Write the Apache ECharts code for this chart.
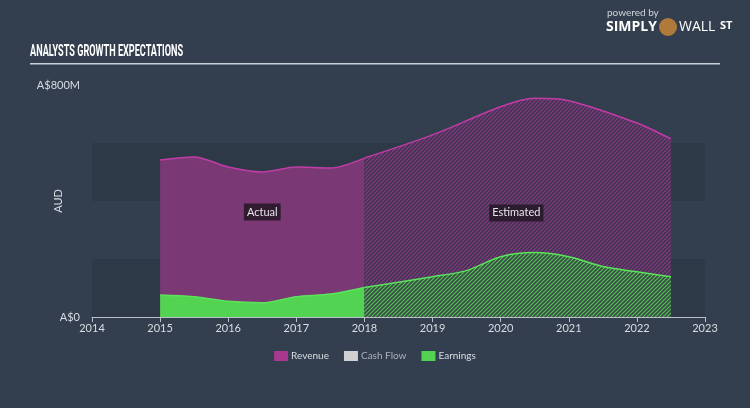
<!DOCTYPE html>
<html><head><meta charset="utf-8">
<script src="https://cdn.jsdelivr.net/npm/echarts@6/dist/echarts.min.js"></script>
<style>html,body{margin:0;padding:0;background:#333f4e;}#c{width:750px;height:408px;}</style>
</head><body><div id="c"></div>
<script>
// ---- data ----
const xTicks = [2014, 2015, 2016, 2017, 2018, 2019, 2020, 2021, 2022, 2023];
const revenueActualX = [2015, 2015.5, 2016, 2016.5, 2017, 2017.5, 2018];
const revenueActual = [541, 552, 517, 500, 517, 514, 548];
const revenueEstX = [2018, 2019, 2020, 2020.5, 2021, 2022, 2022.5];
const revenueEst = [548, 628, 725, 754, 746, 669, 614];
const earningsActualX = [2015, 2015.5, 2016, 2016.5, 2017, 2017.5, 2018];
const earningsActual = [76, 70, 54, 49, 70, 79, 102];
const earningsEstX = [2018, 2019, 2019.5, 2020, 2020.5, 2021, 2021.5, 2022, 2022.5];
const earningsEst = [102, 139, 160, 208, 222, 208, 174, 156, 139];
const cashFlow = [];
const bands = [[0, 200], [400, 600]];
const notes = [{name: 'Actual', x: 2016.5, y: 362}, {name: 'Estimated', x: 2020.23, y: 359}];

function pair(xs, ys) { return xs.map((x, i) => [x, ys[i]]); }
function hatch(bg, fg) {
  const s = 4, c = document.createElement('canvas');
  c.width = s; c.height = s;
  const g = c.getContext('2d');
  g.fillStyle = bg; g.fillRect(0, 0, s, s);
  g.strokeStyle = fg; g.lineWidth = 1.2;
  g.beginPath();
  g.moveTo(0, s); g.lineTo(s, 0);
  g.moveTo(-s, s); g.lineTo(s, -s);
  g.moveTo(0, 2 * s); g.lineTo(2 * s, 0);
  g.stroke();
  return {image: c, repeat: 'repeat'};
}
const revFill = '#7a3874', revLine = '#c23ca8', revIcon = '#a8378f';
const earnFill = '#52d452', earnLine = '#5be35b';
const txt = '#d8dde3';

const chart = echarts.init(document.getElementById('c'), null, {renderer: 'canvas'});
chart.setOption({
  backgroundColor: '#333f4e',
  animation: false,
  grid: {left: 92, right: 45, top: 85, bottom: 91},
  xAxis: {
    type: 'value', min: xTicks[0], max: xTicks[xTicks.length - 1], interval: 1,
    axisLine: {lineStyle: {color: '#b8c0c8', width: 1}},
    axisTick: {show: true, length: 5, lineStyle: {color: '#b8c0c8'}},
    axisLabel: {color: txt, fontSize: 11, fontFamily: 'Lato', margin: 6, formatter: v => String(v)},
    splitLine: {show: false}
  },
  yAxis: {
    type: 'value', min: 0, max: 800, interval: 800,
    name: 'AUD', nameLocation: 'middle', nameGap: 28, nameRotate: 90, nameMoveOverlap: false,
    nameTextStyle: {color: txt, fontSize: 11, fontFamily: 'Lato'},
    axisLine: {show: false}, axisTick: {show: false}, splitLine: {show: false},
    axisLabel: {color: txt, fontSize: 11, fontFamily: 'Lato', margin: 12,
      formatter: v => v === 0 ? 'A$0' : 'A$' + v + 'M'}
  },
  legend: {
    bottom: 42, left: 'center', itemWidth: 14, itemHeight: 10, itemGap: 15,
    textStyle: {color: txt, fontSize: 10, fontFamily: 'Lato', padding: [0, 0, 0, -2]},
    data: [{name: 'Revenue', icon: 'rect'}, {name: 'Cash Flow', icon: 'rect', textStyle: {color: '#aab2bb'}}, {name: 'Earnings', icon: 'rect'}]
  },
  graphic: [
    {type: 'text', left: 30, top: 44, scaleX: 0.57, originX: 0, style: {text: 'ANALYSTS GROWTH EXPECTATIONS', fill: '#ffffff',
      font: 'bold 16px Roboto'}},
    {type: 'rect', shape: {x: 30, y: 63, width: 690, height: 1.5}, style: {fill: '#c8cfd6'}},
    {type: 'text', left: 607, top: 8, style: {text: 'powered by', fill: '#cfd5db', font: '10px Lato'}},
    {type: 'text', left: 606, top: 20, style: {text: 'SIMPLY', fill: '#ffffff', font: 'bold 14px "Open Sans"'}},
    {type: 'circle', shape: {cx: 668, cy: 27, r: 9}, style: {fill: '#b07a3a'}},
    {type: 'text', left: 679, top: 20, style: {text: 'WALL', fill: '#ffffff', font: '14px "Open Sans"'}},
    {type: 'text', left: 720, top: 20, style: {text: 'ST', fill: '#ffffff', font: 'bold 11px "Open Sans"'}}
  ],
  series: [
    {name: 'Revenue', type: 'line', smooth: 0.3, symbol: 'none', data: pair(revenueActualX, revenueActual),
      lineStyle: {color: revLine, width: 1.5}, itemStyle: {color: revIcon}, areaStyle: {color: revFill, opacity: 1}, z: 2,
      markArea: {silent: true, itemStyle: {color: '#2d3947'},
        data: bands.map(b => [{xAxis: xTicks[0], yAxis: b[0]}, {xAxis: xTicks[xTicks.length - 1], yAxis: b[1]}])}},
    {name: 'Revenue', type: 'line', smooth: 0.3, symbol: 'none', data: pair(revenueEstX, revenueEst),
      lineStyle: {color: revLine, width: 1.5}, itemStyle: {color: revIcon}, areaStyle: {color: hatch('#3f3550', '#8a3a84'), opacity: 1}, z: 2},
    {name: 'Cash Flow', type: 'line', data: cashFlow, itemStyle: {color: '#d0d0d0'}},
    {name: 'Earnings', type: 'line', smooth: 0.3, symbol: 'none', data: pair(earningsActualX, earningsActual),
      lineStyle: {color: earnLine, width: 1.5}, itemStyle: {color: earnFill}, areaStyle: {color: earnFill, opacity: 1}, z: 3},
    {name: 'Earnings', type: 'line', smooth: 0.3, symbol: 'none', data: pair(earningsEstX, earningsEst),
      lineStyle: {color: earnLine, width: 1.5}, itemStyle: {color: earnFill}, areaStyle: {color: hatch('#3b4a48', '#52c452'), opacity: 1}, z: 3,
      markPoint: {silent: true, symbol: 'rect', symbolSize: 1, itemStyle: {color: 'transparent'},
        label: {show: true, position: 'inside', color: '#e6e6ea', fontSize: 11, fontFamily: 'Lato',
          backgroundColor: 'rgba(35,22,38,0.85)', padding: [3, 3], formatter: p => p.name},
        data: notes.map(n => ({name: n.name, coord: [n.x, n.y]}))}}
  ]
});
</script></body></html>
